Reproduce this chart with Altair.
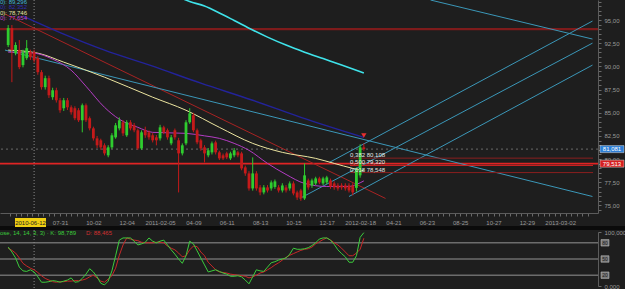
import altair as alt
import pandas as pd
from datetime import date, datetime, timedelta, timezone

# ---------------- data ----------------
FIRST_WEEK = date(2010, 4, 24)
N_BARS = 97
bar_dates = [(FIRST_WEEK + timedelta(days=7 * i)).isoformat() for i in range(N_BARS)]

opens = [92.30, 94.13, 91.43, 91.76, 90.14, 90.89, 91.54, 91.54, 90.89, 89.38,
         87.76, 88.73, 86.68, 87.43, 86.35, 85.49, 86.35, 85.59, 85.49, 85.27,
         84.19, 85.81, 84.41, 83.32, 82.24, 82.03, 81.49, 80.41, 81.27, 82.35,
         83.32, 83.97, 82.57, 83.97, 83.65, 83.11, 81.16, 83.11, 82.89, 82.57,
         82.35, 82.24, 83.43, 83.11, 81.70, 83.11, 82.03, 80.62, 81.70, 83.97,
         84.73, 83.11, 82.03, 81.27, 80.41, 80.73, 81.81, 80.73, 80.41, 80.62,
         80.08, 80.41, 80.73, 80.62, 79.11, 78.46, 76.84, 78.46, 76.95, 76.41,
         76.95, 76.84, 77.00, 76.95, 76.62, 76.95, 76.84, 77.38, 76.41, 76.62,
         75.76, 77.70, 77.16, 77.38, 77.92, 77.38, 77.49, 77.70, 77.38, 77.16,
         77.16, 77.16, 77.16, 77.16, 76.90, 78.25, 81.27]
closes = [94.13, 91.76, 92.30, 89.92, 91.54, 91.97, 91.00, 90.68, 89.38, 87.76,
          88.73, 86.89, 87.43, 86.35, 85.27, 86.35, 85.59, 85.05, 84.41, 84.19,
          85.81, 84.19, 83.32, 82.24, 81.49, 81.27, 80.62, 81.27, 82.57, 83.65,
          84.19, 82.78, 83.97, 83.32, 83.11, 81.16, 82.89, 82.57, 82.35, 82.03,
          82.03, 83.43, 82.89, 82.35, 82.35, 82.35, 80.62, 81.49, 83.97, 84.94,
          83.11, 81.81, 81.16, 80.62, 80.95, 81.70, 80.73, 80.08, 80.08, 80.19,
          80.62, 80.95, 80.41, 79.00, 78.46, 76.84, 78.46, 76.84, 76.41, 76.95,
          76.62, 77.49, 77.60, 76.62, 77.16, 76.62, 77.38, 76.30, 75.86, 75.76,
          78.25, 76.95, 77.70, 77.92, 77.49, 77.92, 78.03, 77.05, 76.95, 76.84,
          76.95, 76.84, 76.62, 76.41, 78.90, 81.27, 81.081]
highs = [94.46, 94.46, 92.60, 92.84, 91.80, 92.84, 91.80, 91.80, 91.10, 89.60,
         89.00, 89.00, 87.70, 87.70, 86.60, 86.60, 86.60, 85.80, 85.70, 85.50,
         86.00, 86.00, 84.60, 83.50, 82.50, 82.20, 81.70, 81.50, 82.80, 83.90,
         84.50, 84.20, 84.20, 84.20, 83.90, 83.30, 83.10, 83.50, 83.10, 82.80,
         82.60, 83.70, 83.60, 83.30, 82.60, 83.30, 82.30, 81.70, 84.20, 85.49,
         85.00, 83.30, 82.20, 81.50, 81.20, 81.90, 82.00, 80.90, 80.60, 80.80,
         80.80, 81.20, 80.90, 80.80, 79.30, 78.70, 80.19, 78.70, 77.20, 77.20,
         77.20, 77.70, 77.80, 77.20, 77.40, 77.20, 77.60, 77.60, 76.60, 76.80,
         79.54, 77.90, 77.90, 78.10, 78.10, 78.10, 78.20, 77.90, 77.60, 77.40,
         77.40, 77.40, 77.40, 77.40, 79.10, 81.60, 81.70]
lows = [92.08, 88.30, 91.20, 89.70, 89.90, 90.70, 90.70, 90.40, 89.10, 87.50,
        87.50, 86.60, 86.40, 86.10, 85.00, 85.20, 85.30, 84.80, 84.20, 84.00,
        82.89, 84.00, 83.10, 82.00, 81.20, 81.00, 80.40, 80.20, 81.10, 82.20,
        83.10, 82.50, 82.40, 83.10, 82.90, 81.00, 81.00, 82.30, 82.10, 81.80,
        81.49, 82.00, 82.70, 82.10, 81.50, 82.10, 76.41, 80.40, 81.50, 83.80,
        82.90, 81.60, 80.90, 79.65, 80.20, 80.50, 80.50, 79.90, 79.90, 80.00,
        79.90, 80.20, 80.20, 78.80, 78.20, 76.60, 76.60, 76.60, 76.10, 76.20,
        76.40, 76.60, 76.80, 76.40, 76.40, 76.40, 76.60, 76.10, 75.60, 75.50,
        75.60, 76.70, 76.90, 77.20, 77.30, 77.20, 77.30, 76.80, 76.70, 76.60,
        76.70, 76.60, 76.40, 76.10, 76.50, 78.00, 80.90]

stoch_k = [72, 63, 52, 35, 28, 27, 30, 26, 17, 7,
           7, 8, 10, 9, 7, 9, 11, 15, 7, 8,
           14, 22, 32, 26, 17, 5, 2, 9, 28, 56,
           85, 89, 89, 89, 83, 76, 78, 81, 89, 83,
           80, 83, 85, 76, 67, 59, 50, 42, 56, 83,
           78, 65, 52, 39, 26, 28, 30, 27, 24, 22,
           18, 18, 19, 17, 11, 4, 17, 30, 28, 27,
           35, 43, 45, 48, 50, 52, 59, 70, 68, 68,
           69, 71, 75, 80, 87, 89, 89, 85, 77, 67,
           60, 54, 44, 44, 56, 90, 98.789]
stoch_d = [70, 66, 61, 52, 42, 37, 33, 30, 25, 19,
           14, 11, 8, 7, 8, 8, 9, 9, 10, 10,
           11, 13, 17, 20, 15, 9, 7, 13, 19, 33,
           57, 76, 89, 87, 85, 84, 81, 80, 80, 80,
           81, 81, 80, 74, 70, 67, 61, 54, 56, 67,
           74, 73, 63, 56, 44, 37, 30, 26, 25, 24,
           22, 21, 20, 19, 18, 15, 17, 20, 24, 26,
           30, 34, 39, 43, 48, 53, 57, 60, 63, 66,
           68, 69, 72, 78, 82, 86, 89, 85, 80, 76,
           70, 63, 56, 56, 61, 68, 88.465]

# moving averages, read at selected bars (bar index -> value)
ma_yellow_idx = [0, 8, 15, 26, 39, 48, 57, 66, 74, 83, 88, 93, 96]
ma_yellow_val = [91.76, 91.43, 90.46, 88.84, 86.68, 85.27, 83.43, 81.70, 80.73, 80.08, 79.54, 79.00, 78.746]
ma_purple_idx = [0, 7, 12, 17, 21, 26, 30, 35, 39, 48, 53, 57, 61, 65, 70, 75, 80, 86, 92, 94, 96]
ma_purple_val = [91.54, 91.43, 90.78, 89.59, 87.86, 85.59, 84.30, 83.43, 82.89, 82.78, 82.51, 82.24,
                 81.70, 80.95, 79.54, 78.35, 77.38, 77.05, 77.05, 77.27, 77.654]
ma_navy_idx = [4, 15, 26, 39, 52, 66, 79, 96]
ma_navy_val = [95.43, 93.49, 91.76, 90.03, 88.19, 86.35, 84.51, 82.35]
ma_cyan_idx = [46, 49, 53, 57, 61, 66, 70, 75, 80, 85, 90, 96]
ma_cyan_val = [97.49, 97.00, 96.51, 95.76, 94.95, 93.92, 93.16, 92.30, 91.54, 90.84, 90.14, 89.296]

# drawn trend lines: (start date, start price, end date, end price, colour)
trend_start = ["2010-04-18", "2010-04-18", "2012-06-30", "2011-12-22", "2011-10-27", "2012-01-28"]
trend_p1 = [95.65, 91.76, 97.16, 79.65, 75.76, 75.97]
trend_end = ["2012-04-06", "2013-05-02", "2013-05-02", "2013-05-02", "2013-05-02", "2013-05-02"]
trend_p2 = [75.76, 75.97, 92.95, 94.89, 92.51, 90.14]
trend_col = ["#a82323", "#3b97b8", "#3b97b8", "#3b97b8", "#3b97b8", "#3b97b8"]

fib_ratio = ["0,382", "0,500", "0,618"]
fib_price = [80.108, 79.320, 78.548]
fib_price_txt = ["80,108", "79,320", "78,548"]
fib_col = ["#8a1f1f", "#d42222", "#8a1f1f"]
fib_start = "2012-01-30"

resistance_price = 94.03
support_price = 79.513
last_price = 81.081
crosshair_date = "2010-06-12"
signal_date = "2012-02-25"
signal_price = 82.55

date_ticks = ["2010-07-31", "2010-10-02", "2010-12-04", "2011-02-05", "2011-04-09", "2011-06-11",
              "2011-08-13", "2011-10-15", "2011-12-17", "2012-02-18", "2012-04-21", "2012-06-23",
              "2012-08-25", "2012-10-27", "2012-12-29", "2013-03-02"]
price_ticks = [75, 77.5, 80, 82.5, 85, 87.5, 90, 92.5, 95]
stoch_levels = [80, 50, 20]

legend_txt = ["0): 89,296", "0): 82,352", "0): 78,746", "0): 77,654"]
legend_col = ["#41b6d6", "#3030b0", "#e8e2a0", "#c24cd0"]
stoch_title = ["ose, 14, 14, 3, 3) · K: 98,789", "D: 88,465"]

# ---------------- helpers ----------------
FONT = "Liberation Sans"
DAY_MS = 86400000


def ms(s):
    y, m, d = (int(v) for v in s.split("-"))
    return int(datetime(y, m, d, tzinfo=timezone.utc).timestamp() * 1000)


def dt(s):
    y, m, d = (int(v) for v in s.split("-"))
    return alt.DateTime(year=y, month=m, date=d, utc=True)


# six minor ticks per labelled period (labels every 63 days)
T0 = ms(date_ticks[0])
PERIOD = 63 * DAY_MS
x_tick_values = [T0 + k * PERIOD // 6 for k in range(-18, 6 * 17)]
x_tick_values = [v for v in x_tick_values if ms("2010-04-18") <= v <= ms("2013-05-03")]

x_scale = alt.Scale(type="utc", domain=[dt("2010-04-18"), dt("2013-05-03")])
x_axis = alt.Axis(
    values=x_tick_values,
    labelExpr=(f"(datum.value < {T0} || (datum.value - {T0}) % {PERIOD} != 0) ? '' : "
               "(utcmonth(datum.value) <= 2 ? utcFormat(datum.value, '%Y-%m-%d') : utcFormat(datum.value, '%m-%d'))"),
    title=None, tickSize=3, labelPadding=3, labelFontSize=6, labelColor="#9a9a9a",
    domainColor="#5c5c5c", tickColor="#6a6a6a", grid=False, labelFont=FONT, labelOverlap=False,
)


def X(field="date"):
    return alt.X(f"{field}:T", scale=x_scale, axis=x_axis)


p_tick_values = [74.5 + 0.5 * k for k in range(46)]
p_scale = alt.Scale(domain=[74.19, 97.162], zero=False, nice=False)
p_axis = alt.Axis(orient="right", values=p_tick_values, title=None, grid=False,
                  labelExpr="datum.value % 2.5 == 0 ? replace(format(datum.value, '.2f'), '.', ',') : ''",
                  tickSize=3, labelPadding=3, labelFontSize=6, labelColor="#9a9a9a", labelOverlap=False,
                  domainColor="#5c5c5c", tickColor="#6a6a6a", labelFont=FONT)


def Y(field):
    return alt.Y(f"{field}:Q", scale=p_scale, axis=p_axis)


s_scale = alt.Scale(domain=[0, 100], range=[286, 232], nice=False, zero=False)
s_axis = alt.Axis(orient="right", values=[0, 100], title=None, grid=False,
                  labelExpr="replace(format(datum.value, '.3f'), '.', ',')",
                  tickSize=3, labelPadding=3, labelFontSize=6, labelColor="#9a9a9a",
                  domainColor="#5c5c5c", tickColor="#6a6a6a", labelFont=FONT)


def SY(field):
    return alt.Y(f"{field}:Q", scale=s_scale, axis=s_axis)


bars = pd.DataFrame({"date": bar_dates, "open": opens, "high": highs, "low": lows,
                     "close": closes, "k": stoch_k, "d": stoch_d})
bars["dir"] = ["up" if c >= o else "down" for o, c in zip(opens, closes)]
col = alt.Color("dir:N", scale=alt.Scale(domain=["up", "down"], range=["#2fcc2f", "#c41a1a"]), legend=None)


def ma_frame(idx, val):
    return pd.DataFrame({"date": [bar_dates[i] for i in idx], "v": val})


# ---------------- price panel ----------------
bg_band = alt.Chart(pd.DataFrame({"a": [0]})).mark_rect(color="#0b0b0b").encode(
    x=alt.value(0), x2=alt.value(625), y=alt.value(226), y2=alt.value(230))

hlines = pd.DataFrame({"p": [resistance_price, support_price], "c": ["#7e1b1b", "#e02424"],
                       "w": [2.2, 1.6]})
hline_layer = alt.Chart(hlines).mark_rule().encode(
    y=Y("p"), color=alt.Color("c:N", scale=None), strokeWidth=alt.StrokeWidth("w:Q", scale=None))

last_line = alt.Chart(pd.DataFrame({"p": [last_price]})).mark_rule(
    color="#6a6a6a", strokeDash=[2, 3], strokeWidth=1).encode(y=Y("p"))

cross_main = alt.Chart(pd.DataFrame({"date": [crosshair_date]})).mark_rule(
    color="#8a8a8a", strokeDash=[1, 2], strokeWidth=1).encode(x=X())

trend = pd.DataFrame({"date": trend_start, "p1": trend_p1, "date2": trend_end,
                      "p2": trend_p2, "c": trend_col})
trend_layer = alt.Chart(trend).mark_rule(strokeWidth=1, clip=True).encode(
    x=X(), x2="date2:T", y=Y("p1"), y2="p2:Q", color=alt.Color("c:N", scale=None))

fib = pd.DataFrame({"date": [fib_start] * 3, "date2": ["2013-05-03"] * 3, "p": fib_price, "c": fib_col})
fib["label"] = [f"{r} {s}" for r, s in zip(fib_ratio, fib_price_txt)]
fib_lines = alt.Chart(fib).mark_rule(strokeWidth=1).encode(
    x=X(), x2="date2:T", y=Y("p"), color=alt.Color("c:N", scale=None))
fib_text = alt.Chart(fib).mark_text(align="left", baseline="bottom", dy=0, font=FONT,
                                    fontSize=6, color="#e8e8e8").encode(x=X(), y=Y("p"), text="label:N")

wicks = alt.Chart(bars).mark_rule(strokeWidth=1).encode(x=X(), y=Y("low"), y2="high:Q", color=col)
bodies = alt.Chart(bars).mark_bar(size=2.8).encode(x=X(), y=Y("open"), y2="close:Q", color=col)

ma_specs = [(ma_cyan_idx, ma_cyan_val, "#3fe3ea", 1.6),
            (ma_navy_idx, ma_navy_val, "#23239a", 1.4),
            (ma_yellow_idx, ma_yellow_val, "#ece5a0", 1.0),
            (ma_purple_idx, ma_purple_val, "#b43cc4", 1.0)]
ma_layers = [alt.Chart(ma_frame(i, v)).mark_line(color=c, strokeWidth=w, interpolate="monotone", clip=True)
             .encode(x=X(), y=Y("v")) for i, v, c, w in ma_specs]

signal = alt.Chart(pd.DataFrame({"date": [signal_date], "p": [signal_price]})).mark_point(
    shape="triangle-down", filled=True, size=28, color="#e83030", opacity=1).encode(x=X(), y=Y("p"))

# price boxes on the right axis
boxes = pd.DataFrame({"p": [last_price, support_price], "txt": ["81,081", "79,513"],
                      "c": ["#2e7fd6", "#d61f1f"]})
boxes["lo"] = boxes["p"] - 0.38
boxes["hi"] = boxes["p"] + 0.38
box_rect = alt.Chart(boxes).mark_rect(stroke="#dddddd", strokeWidth=0.5).encode(
    x=alt.value(600), x2=alt.value(624), y=Y("lo"), y2="hi:Q", color=alt.Color("c:N", scale=None))
box_text = alt.Chart(boxes).mark_text(font=FONT, fontSize=6, color="white", align="center",
                                      baseline="middle").encode(x=alt.value(612), y=Y("p"), text="txt:N")

price_panel = alt.layer(hline_layer, last_line, cross_main, trend_layer, fib_lines,
                        *ma_layers, wicks, bodies, fib_text, signal, box_rect, box_text)

# ---------------- stochastic panel ----------------
lev_df = pd.DataFrame({"lv": stoch_levels, "t": [str(v) for v in stoch_levels]})
lev_df["lo"] = lev_df["lv"] - 6
lev_df["hi"] = lev_df["lv"] + 6
lev = alt.Chart(lev_df).mark_rule(color="#6c6c6c", strokeWidth=1.4).encode(y=SY("lv"))
lev_box = alt.Chart(lev_df).mark_rect(color="#7a7a7a", stroke="#c8c8c8", strokeWidth=0.5).encode(
    x=alt.value(601), x2=alt.value(609), y=SY("lo"), y2="hi:Q")
lev_txt = alt.Chart(lev_df).mark_text(font=FONT, fontSize=5, color="#1a1a1a", align="center",
                                      baseline="middle").encode(x=alt.value(605), y=SY("lv"), text="t:N")
k_line = alt.Chart(bars).mark_line(color="#3ccc3c", strokeWidth=1).encode(x=X(), y=SY("k"))
d_line = alt.Chart(bars).mark_line(color="#c82828", strokeWidth=1).encode(x=X(), y=SY("d"))
cross_stoch = alt.Chart(pd.DataFrame({"date": [crosshair_date]})).mark_rule(
    color="#8a8a8a", strokeDash=[1, 2], strokeWidth=1).encode(x=X(), y=alt.value(230), y2=alt.value(289))
stoch_panel = alt.layer(lev, cross_stoch, d_line, k_line, lev_box, lev_txt)

# ---------------- text decorations ----------------
legend_rows = pd.DataFrame({"x": [0, 0, 0, 0], "y": [1.5, 6.5, 12.5, 18], "t": legend_txt, "c": legend_col})
legend_text = alt.Chart(legend_rows).mark_text(align="left", baseline="middle", font=FONT, fontSize=6).encode(
    x=alt.X("x:Q", scale=None), y=alt.Y("y:Q", scale=None), text="t:N", color=alt.Color("c:N", scale=None))

stoch_lbl = pd.DataFrame({"x": [0, 86], "y": [233, 233], "t": stoch_title, "c": ["#3ccc3c", "#d03030"]})
stoch_text = alt.Chart(stoch_lbl).mark_text(align="left", baseline="middle", font=FONT, fontSize=6).encode(
    x=alt.X("x:Q", scale=None), y=alt.Y("y:Q", scale=None), text="t:N", color=alt.Color("c:N", scale=None))

date_box = alt.Chart(pd.DataFrame({"a": [0]})).mark_rect(color="#efcf12").encode(
    x=alt.value(15), x2=alt.value(46), y=alt.value(218), y2=alt.value(227))
date_box_text = alt.Chart(pd.DataFrame({"t": [crosshair_date]})).mark_text(
    font=FONT, fontSize=6, color="#202020", align="center", baseline="middle").encode(
    x=alt.value(30.5), y=alt.value(222.5), text="t:N")

chart = alt.layer(price_panel, stoch_panel, bg_band, legend_text, stoch_text, date_box, date_box_text
                  ).resolve_scale(y="independent").properties(
    width=598, height=213,
    padding={"left": 0, "top": 0, "right": 27, "bottom": 76},
    autosize=alt.AutoSizeParams(type="none"),
    background="#1e1e1e",
).configure_view(stroke=None)

chart.save("out.html", embed_options={"renderer": "svg", "actions": False})
